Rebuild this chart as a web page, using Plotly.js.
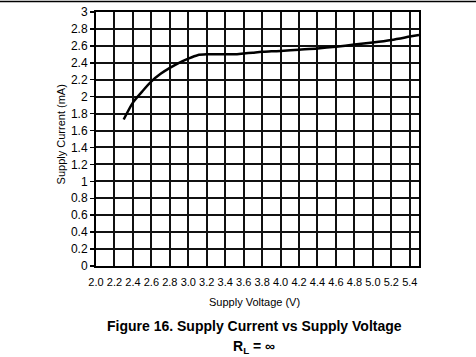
<!DOCTYPE html>
<html>
<head>
<meta charset="utf-8">
<script src="https://cdn.plot.ly/plotly-3.0.1.min.js"></script>
<style>
html,body{margin:0;padding:0;background:#fff;}
#chart{width:476px;height:357px;}
</style>
</head>
<body>
<div id="chart"></div>
<script>
// Data
const voltage = [2.3, 2.4, 2.5, 2.6, 2.7, 2.8, 2.9, 3.0, 3.1, 3.2, 3.3, 3.4, 3.5, 3.6, 3.7, 3.8, 3.9, 4.0, 4.2, 4.4, 4.6, 4.8, 5.0, 5.2, 5.4, 5.5];
const current = [1.73, 1.93, 2.06, 2.18, 2.27, 2.34, 2.40, 2.45, 2.49, 2.50, 2.50, 2.50, 2.50, 2.51, 2.52, 2.53, 2.535, 2.54, 2.555, 2.57, 2.59, 2.615, 2.64, 2.67, 2.71, 2.73];
const xTickVals = [2.0, 2.2, 2.4, 2.6, 2.8, 3.0, 3.2, 3.4, 3.6, 3.8, 4.0, 4.2, 4.4, 4.6, 4.8, 5.0, 5.2, 5.4];
const xTickText = ["2.0","2.2","2.4","2.6","2.8","3.0","3.2","3.4","3.6","3.8","4.0","4.2","4.4","4.6","4.8","5.0","5.2","5.4"];
const yTickVals = [0, 0.2, 0.4, 0.6, 0.8, 1, 1.2, 1.4, 1.6, 1.8, 2, 2.2, 2.4, 2.6, 2.8, 3];
const yTickText = ["0","0.2","0.4","0.6","0.8","1","1.2","1.4","1.6","1.8","2","2.2","2.4","2.6","2.8","3"];
const xTitle = "Supply Voltage (V)";
const yTitle = "Supply Current (mA)";
const figTitle = "Figure 16. Supply Current vs Supply Voltage";
const figSub = "R<sub>L</sub> = ∞";

const FONT = "Liberation Sans, Arial, sans-serif";

const trace = {
  x: voltage, y: current, type: 'scatter', mode: 'lines',
  line: {color: '#000', width: 2.5, shape: 'spline', smoothing: 0.8},
  hoverinfo: 'skip', cliponaxis: true
};

const layout = {
  width: 476, height: 357,
  margin: {l: 96, r: 57, t: 12, b: 91},
  paper_bgcolor: '#fff', plot_bgcolor: '#fff',
  showlegend: false,
  font: {family: FONT, color: '#000', size: 12},
  xaxis: {
    range: [2.0, 5.5], tickvals: xTickVals, ticktext: xTickText,
    tickangle: 0, ticklabelstandoff: 5,
    showgrid: true, gridcolor: '#111', gridwidth: 2,
    showline: true, linecolor: '#000', linewidth: 2, mirror: true,
    ticks: '', zeroline: false, tickfont: {size: 11, color: '#000'},
    fixedrange: true
  },
  yaxis: {
    range: [0, 3], tickvals: yTickVals, ticktext: yTickText,
    showgrid: true, gridcolor: '#111', gridwidth: 2,
    showline: true, linecolor: '#000', linewidth: 2, mirror: true,
    ticks: 'outside', ticklen: 4, tickcolor: '#000', tickwidth: 1.5,
    zeroline: false, tickfont: {size: 12, color: '#000'},
    fixedrange: true
  },
  shapes: [
    {type: 'line', xref: 'paper', yref: 'paper', x0: -0.3, x1: 1.18, y0: 1.041, y1: 1.041,
     line: {color: '#000', width: 1.5}}
  ],
  annotations: [
    {text: yTitle, xref: 'paper', yref: 'paper', x: -0.11, y: 0.52, textangle: -90,
     showarrow: false, xanchor: 'center', yanchor: 'middle', font: {size: 11, family: FONT}},
    {text: xTitle, xref: 'paper', yref: 'paper', x: 0.49, y: -0.142,
     showarrow: false, xanchor: 'center', yanchor: 'middle', font: {size: 11, family: FONT}},
    {text: '<b>' + figTitle + '</b>', xref: 'paper', yref: 'paper', x: 0.49, y: -0.236,
     showarrow: false, xanchor: 'center', yanchor: 'middle', font: {size: 14, family: FONT}},
    {text: '<b>' + figSub + '</b>', xref: 'paper', yref: 'paper', x: 0.49, y: -0.318,
     showarrow: false, xanchor: 'center', yanchor: 'middle', font: {size: 14, family: FONT}}
  ]
};

Plotly.newPlot('chart', [trace], layout, {displayModeBar: false, staticPlot: true});
</script>
</body>
</html>
